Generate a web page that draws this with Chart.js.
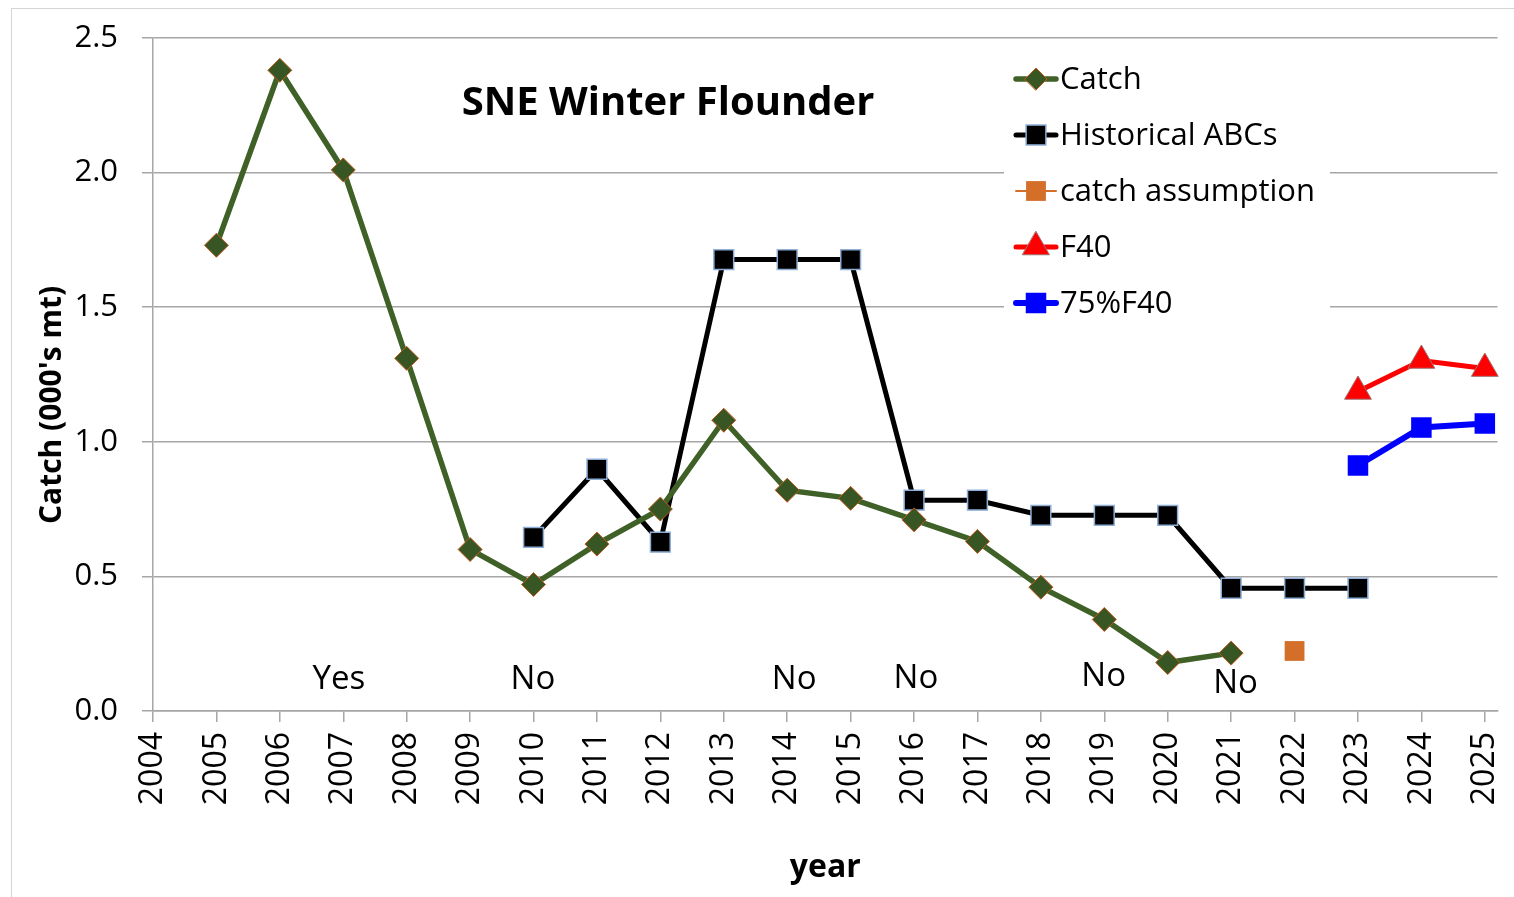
<!DOCTYPE html>
<html>
<head>
    <title>SNE Winter Flounder</title>
    <style>
        body { margin: 0; background: #fff; }
        #frame { position: absolute; left: 11px; top: 8px; width: 1510px; height: 900px; border: 1px solid #d4d4d4; }
        #wrap { position: absolute; left: 0; top: 0; }
    </style>
</head>
<body>
    <div id="frame"></div>
    <div id="wrap"><canvas id="chart" width="1514" height="897"></canvas></div>
    <script src="https://cdn.jsdelivr.net/npm/chart.js"></script>
    <script>
        const years = [2004, 2005, 2006, 2007, 2008, 2009, 2010, 2011, 2012, 2013, 2014,
                       2015, 2016, 2017, 2018, 2019, 2020, 2021, 2022, 2023, 2024, 2025];
        const catchVals = [null, 1.73, 2.38, 2.01, 1.31, 0.60, 0.47, 0.62, 0.75, 1.08, 0.82,
                           0.79, 0.71, 0.63, 0.46, 0.34, 0.18, 0.215, null, null, null, null];
        const abcVals = [null, null, null, null, null, null, 0.645, 0.898, 0.627, 1.677, 1.677,
                         1.677, 0.783, 0.783, 0.727, 0.727, 0.727, 0.456, 0.456, 0.456, null, null];
        const assumptionVals = [null, null, null, null, null, null, null, null, null, null, null,
                                null, null, null, null, null, null, null, 0.223, null, null, null];
        const f40Vals = [null, null, null, null, null, null, null, null, null, null, null,
                         null, null, null, null, null, null, null, null, 1.187, 1.302, 1.272];
        const f40x75Vals = [null, null, null, null, null, null, null, null, null, null, null,
                            null, null, null, null, null, null, null, null, 0.912, 1.053, 1.068];
        const yTicks = [0, 0.5, 1.0, 1.5, 2.0, 2.5];

        // "Yes"/"No" notes along the bottom, in data units
        const noteText = ["Yes", "No", "No", "No", "No", "No"];
        const noteYear = [2006.93, 2009.99, 2014.11, 2016.03, 2018.99, 2021.07];
        const noteVal  = [0.115, 0.115, 0.115, 0.122, 0.126, 0.10];

        const FONT = "'Open Sans', 'Noto Sans', sans-serif";

        function pts(vals) {
            const out = [];
            vals.forEach((v, i) => { if (v !== null) out.push({x: years[i], y: v}); });
            return out;
        }

        const series = [
            {label: "Catch", data: catchVals, line: "#3f6127", lw: 5.5, style: "rectRot", r: 12, fill: "#375623", edge: "#c0581a", ew: 1},
            {label: "Historical ABCs", data: abcVals, line: "#000000", lw: 5, style: "rect", r: 14, fill: "#000000", edge: "#8eaed8", ew: 1.5},
            {label: "catch assumption", data: assumptionVals, line: "#d46f2a", lw: 2, style: "rect", r: 14, fill: "#d46f2a", edge: "#d46f2a", ew: 0},
            {label: "F40", data: f40Vals, line: "#ff0000", lw: 5, style: "triangle", r: 15.5, fill: "#ff0000", edge: "#a07070", ew: 1},
            {label: "75%F40", data: f40x75Vals, line: "#0000ff", lw: 6, style: "rect", r: 14.5, fill: "#0000ff", edge: "#0000ff", ew: 0}
        ];

        function marker(ctx, s, x, y, r) {
            ctx.save();
            ctx.fillStyle = s.fill;
            ctx.strokeStyle = s.edge;
            ctx.lineWidth = s.ew;
            ctx.beginPath();
            if (s.style === "rectRot") {
                ctx.moveTo(x - r, y); ctx.lineTo(x, y - r); ctx.lineTo(x + r, y); ctx.lineTo(x, y + r);
                ctx.closePath();
            } else if (s.style === "triangle") {
                const w = r * Math.sqrt(3) / 2;
                ctx.moveTo(x, y - r); ctx.lineTo(x + w, y + r / 2); ctx.lineTo(x - w, y + r / 2);
                ctx.closePath();
            } else {
                const h = r * Math.SQRT1_2;
                ctx.rect(x - h, y - h, 2 * h, 2 * h);
            }
            ctx.fill();
            if (s.ew > 0) ctx.stroke();
            ctx.restore();
        }

        const extras = {
            id: "extras",
            afterDatasetsDraw(chart) {
                const {ctx, scales: {x, y}} = chart;
                ctx.save();
                ctx.fillStyle = "#000";
                ctx.textAlign = "center";
                ctx.textBaseline = "middle";
                ctx.font = "33px " + FONT;
                noteText.forEach((t, i) => ctx.fillText(t, x.getPixelForValue(noteYear[i]), y.getPixelForValue(noteVal[i])));

                // title inside plot
                ctx.font = "bold 40px " + FONT;
                ctx.fillText("SNE Winter Flounder", 668, 104);

                // y axis title
                ctx.save();
                ctx.translate(52, 405);
                ctx.rotate(-Math.PI / 2);
                ctx.font = "bold 30px " + FONT;
                ctx.fillText("Catch (000's mt)", 0, 0);
                ctx.restore();

                // legend
                ctx.fillStyle = "#fff";
                ctx.fillRect(1004, 48, 326, 276);
                ctx.textAlign = "left";
                ctx.font = "31px " + FONT;
                series.forEach((s, i) => {
                    const ly = 79 + i * 56;
                    ctx.strokeStyle = s.line;
                    ctx.lineWidth = s.lw;
                    ctx.lineCap = "round";
                    ctx.beginPath();
                    ctx.moveTo(1016, ly); ctx.lineTo(1056, ly);
                    ctx.stroke();
                    marker(ctx, s, 1036, ly, s.style === "rectRot" ? 11 : s.r);
                    ctx.fillStyle = "#000";
                    ctx.fillText(s.label, 1060, ly + 1);
                });
                ctx.restore();
            }
        };

        new Chart(document.getElementById("chart").getContext("2d"), {
            type: "line",
            data: {
                datasets: series.map(s => ({
                    label: s.label,
                    data: pts(s.data),
                    borderColor: s.line,
                    borderWidth: s.lw,
                    showLine: s.label !== "catch assumption",
                    pointStyle: s.style,
                    pointRadius: s.r,
                    pointHoverRadius: s.r,
                    pointBackgroundColor: s.fill,
                    pointBorderColor: s.edge,
                    pointBorderWidth: s.ew,
                    tension: 0,
                    clip: false
                }))
            },
            options: {
                responsive: false,
                animation: false,
                events: [],
                layout: { padding: { top: 38, right: 12, left: 1, bottom: 0 } },
                plugins: { legend: { display: false }, tooltip: { enabled: false } },
                scales: {
                    x: {
                        type: "linear",
                        min: 2004,
                        max: 2025.2,
                        afterBuildTicks: s => { s.ticks = years.map(v => ({value: v})); },
                        afterFit: s => { s.height = 186; s.paddingLeft = 0; s.paddingRight = 0; },
                        ticks: {
                            minRotation: 90, maxRotation: 90, padding: 10, color: "#000",
                            font: { family: FONT, size: 32 },
                            callback: v => String(v)
                        },
                        grid: { drawOnChartArea: false, drawTicks: true, tickLength: 11, color: "#a6a6a6", lineWidth: 1.5 },
                        border: { color: "#a6a6a6", width: 1.5 },
                        title: { display: true, text: "year", color: "#000", font: { family: FONT, size: 32, weight: "bold" }, padding: { top: 0, bottom: 10 } }
                    },
                    y: {
                        min: 0,
                        max: 2.5,
                        afterBuildTicks: s => { s.ticks = yTicks.map(v => ({value: v})); },
                        afterFit: s => { s.width = 152; s.paddingTop = 0; s.paddingBottom = 0; },
                        ticks: { padding: 24, color: "#000", font: { family: FONT, size: 31 }, callback: v => v.toFixed(1) },
                        grid: { color: "#a6a6a6", lineWidth: 1.5, tickLength: 11 },
                        border: { color: "#a6a6a6", width: 1.5 }
                    }
                }
            },
            plugins: [extras]
        });
    </script>
</body>
</html>
